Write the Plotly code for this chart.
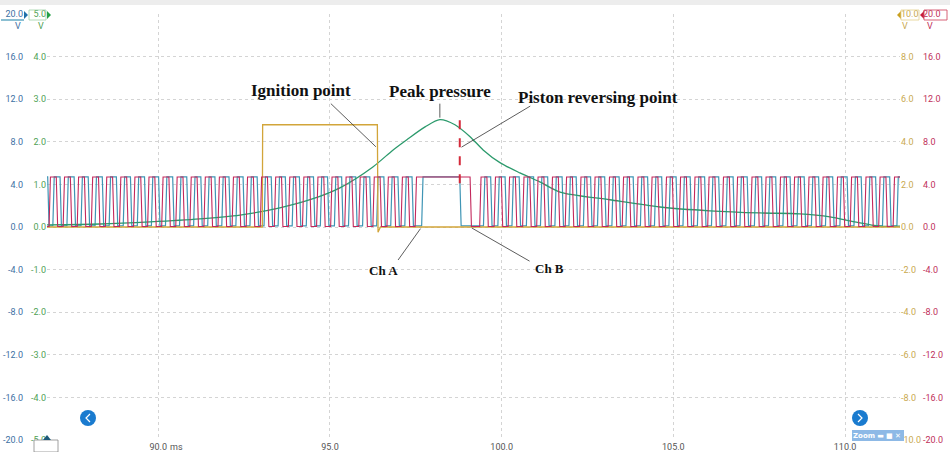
import plotly.graph_objects as go

# ---------------------------------------------------------------- data ----
# Time base (ms)
X_RANGE = [86.76, 111.60]
TIME_TICKS = [90, 95, 100, 105, 110]
TIME_TICK_TEXT = ["90.0", "95.0", "100.0", "105.0", "110.0"]

# Channel A (blue, ±20 V): crank sensor pulse edges, ms
CH_A_RISE = [86.55, 86.93, 87.34, 87.75, 88.16, 88.57, 88.98, 89.39, 89.80, 90.21,
             90.62, 91.03, 91.44, 91.85, 92.26, 92.67, 93.08, 93.49, 93.90, 94.31,
             94.72, 95.13, 95.54, 95.95, 96.36, 96.77, 97.18, 97.67,
             99.47, 99.89, 100.30, 100.72, 101.13, 101.55, 101.96, 102.38, 102.79,
             103.21, 103.62, 104.04, 104.45, 104.87, 105.28, 105.70, 106.11, 106.53,
             106.94, 107.36, 107.77, 108.19, 108.60, 109.02, 109.43, 109.85, 110.26,
             110.68, 111.09, 111.51]
CH_A_FALL = [86.78, 87.14, 87.55, 87.96, 88.37, 88.78, 89.19, 89.60, 90.01, 90.42,
             90.83, 91.24, 91.65, 92.06, 92.47, 92.88, 93.29, 93.70, 94.11, 94.52,
             94.93, 95.34, 95.75, 96.16, 96.57, 96.98, 97.39, 98.78,
             99.68, 100.10, 100.51, 100.93, 101.34, 101.76, 102.17, 102.59, 103.00,
             103.42, 103.83, 104.25, 104.66, 105.08, 105.49, 105.91, 106.32, 106.74,
             107.15, 107.57, 107.98, 108.40, 108.81, 109.23, 109.64, 110.06, 110.47,
             110.89, 111.30, 111.72]
CH_A_HIGH = 4.7
CH_A_LOW = 0.1

# Channel B (red, ±20 V): second crank sensor pulse edges, ms
CH_B_RISE = [86.82, 87.23, 87.64, 88.05, 88.46, 88.87, 89.28, 89.69, 90.10, 90.51,
             90.92, 91.33, 91.74, 92.15, 92.56, 92.97, 93.38, 93.79, 94.20, 94.61,
             95.02, 95.43, 95.84, 96.25, 96.66, 97.07, 97.48,
             99.36, 99.78, 100.19, 100.61, 101.02, 101.44, 101.85, 102.27, 102.68,
             103.10, 103.51, 103.93, 104.34, 104.76, 105.17, 105.59, 106.00, 106.42,
             106.83, 107.25, 107.66, 108.08, 108.49, 108.91, 109.32, 109.74, 110.15,
             110.57, 110.98, 111.40]
CH_B_FALL = [87.03, 87.44, 87.85, 88.26, 88.67, 89.08, 89.49, 89.90, 90.31, 90.72,
             91.13, 91.54, 91.95, 92.36, 92.77, 93.18, 93.59, 94.00, 94.41, 94.82,
             95.23, 95.64, 96.05, 96.46, 96.87, 97.28, 99.08,
             99.57, 99.99, 100.40, 100.82, 101.23, 101.65, 102.06, 102.48, 102.89,
             103.31, 103.72, 104.14, 104.55, 104.97, 105.38, 105.80, 106.21, 106.63,
             107.04, 107.46, 107.87, 108.29, 108.70, 109.12, 109.53, 109.95, 110.36,
             110.78, 111.19, 111.61]
CH_B_HIGH = 4.7
CH_B_LOW = 0.05

# Cylinder pressure sensor (green, ±5 V)
PRESSURE_T = [86.76, 88.30, 89.76, 91.21, 92.38, 93.54, 94.42, 95.29, 96.25, 96.84,
              97.24, 97.77, 98.20, 98.64, 99.08, 99.46, 99.95, 100.53, 101.11, 101.70,
              103.15, 104.61, 106.06, 107.52, 108.68, 109.56, 110.28, 111.01, 111.60]
PRESSURE_V = [0.05, 0.07, 0.12, 0.19, 0.28, 0.45, 0.64, 0.92, 1.41, 1.81,
              2.05, 2.35, 2.52, 2.40, 2.12, 1.81, 1.51, 1.27, 1.06, 0.82,
              0.64, 0.47, 0.38, 0.33, 0.31, 0.24, 0.12, 0.02, 0.02]

# Ignition signal (gold, ±10 V)
IGNITION_T = [86.76, 93.03, 93.04, 96.38, 96.40, 96.47, 111.60]
IGNITION_V = [0.0, 0.0, 4.8, 4.8, -0.25, 0.0, 0.0]

# Piston reversing point marker (red dashed), ±20 V scale
MARKER_T = 98.78
MARKER_V = [4.1, 10.7]

# Axis tick labels
A_TICKS = [20, 16, 12, 8, 4, 0, -4, -8, -12, -16, -20]
A_TEXT = ["20.0", "16.0", "12.0", "8.0", "4.0", "0.0", "-4.0", "-8.0", "-12.0", "-16.0", "-20.0"]
C_TICKS = [5, 4, 3, 2, 1, 0, -1, -2, -3, -4, -5]
C_TEXT = ["5.0", "4.0", "3.0", "2.0", "1.0", "0.0", "-1.0", "-2.0", "-3.0", "-4.0", "-5.0"]
D_TICKS = [10, 8, 6, 4, 2, 0, -2, -4, -6, -8, -10]
D_TEXT = ["10.0", "8.0", "6.0", "4.0", "2.0", "0.0", "-2.0", "-4.0", "-6.0", "-8.0", "-10.0"]

# -------------------------------------------------------------- styling ---
W, H = 950, 452
M_L, M_R, M_T, M_B = 47, 50, 14, 12
EDGE = 0.04  # ms, slew of each pulse edge

BLUE, BLUE_TXT = "#3f95b5", "#3d6fa3"
RED, RED_TXT = "#c3285c", "#c0305a"
GREEN, GREEN_TXT = "#2c9a6c", "#4f9f55"
GOLD, GOLD_TXT = "#d2a53a", "#c9a94f"
GRID = "#d4d4d4"
TICK_FONT = "Roboto"


def px_x(px):
    return (px - M_L) / (W - M_L - M_R)


def px_y(py):
    return 1 - (py - M_T) / (H - M_T - M_B)


def pulse_train(rises, falls, lo, hi):
    xs, ys = [X_RANGE[0] - 1.0], [lo]
    for r, f in zip(rises, falls):
        xs += [r, r + EDGE, f, f + EDGE]
        ys += [lo, hi, hi, lo]
    xs.append(X_RANGE[1] + 1.0)
    ys.append(lo)
    return xs, ys


fig = go.Figure()

ax_t, ax_v = pulse_train(CH_A_RISE, CH_A_FALL, CH_A_LOW, CH_A_HIGH)
bx_t, bx_v = pulse_train(CH_B_RISE, CH_B_FALL, CH_B_LOW, CH_B_HIGH)

fig.add_trace(go.Scatter(x=ax_t, y=ax_v, mode="lines", yaxis="y",
                         line=dict(color=BLUE, width=1.2), hoverinfo="skip"))
fig.add_trace(go.Scatter(x=bx_t, y=bx_v, mode="lines", yaxis="y4",
                         line=dict(color=RED, width=1.1), hoverinfo="skip"))
fig.add_trace(go.Scatter(x=IGNITION_T, y=IGNITION_V, mode="lines", yaxis="y3",
                         line=dict(color=GOLD, width=1.3), hoverinfo="skip"))
fig.add_trace(go.Scatter(x=PRESSURE_T, y=PRESSURE_V, mode="lines", yaxis="y2",
                         line=dict(color=GREEN, width=1.3, shape="spline", smoothing=0.8),
                         hoverinfo="skip"))

tick_font = lambda c: dict(family=TICK_FONT, size=9, color=c)
common_y = dict(zeroline=False, showline=False, ticks="", automargin=False, fixedrange=True)

fig.update_layout(
    width=W, height=H, autosize=False,
    margin=dict(l=M_L, r=M_R, t=M_T, b=M_B, pad=0),
    paper_bgcolor="white", plot_bgcolor="white",
    showlegend=False,
    xaxis=dict(range=X_RANGE, tickvals=TIME_TICKS, ticktext=TIME_TICK_TEXT,
               showgrid=True, gridcolor=GRID, griddash="dot", gridwidth=1,
               zeroline=False, showline=False, ticks="", automargin=False,
               tickfont=tick_font("#555555")),
    yaxis=dict(range=[-20, 20], tickvals=A_TICKS, ticktext=A_TEXT,
               showgrid=True, gridcolor=GRID, griddash="dot", gridwidth=1,
               tickfont=tick_font(BLUE_TXT), ticklabelstandoff=23, **common_y),
    yaxis2=dict(range=[-5, 5], tickvals=C_TICKS, ticktext=C_TEXT, overlaying="y",
                side="left", anchor="x", showgrid=False,
                tickfont=tick_font(GREEN_TXT), **common_y),
    yaxis3=dict(range=[-10, 10], tickvals=D_TICKS, ticktext=D_TEXT, overlaying="y",
                side="right", anchor="x", showgrid=False,
                tickfont=tick_font(GOLD_TXT), **common_y),
    yaxis4=dict(range=[-20, 20], tickvals=A_TICKS, ticktext=A_TEXT, overlaying="y",
                side="right", anchor="x", showgrid=False,
                tickfont=tick_font(RED_TXT), ticklabelstandoff=22, **common_y),
)

shapes = []
annotations = []

# Piston reversing point marker
shapes.append(dict(type="line", xref="x", yref="y4", x0=MARKER_T, x1=MARKER_T,
                   y0=MARKER_V[0], y1=MARKER_V[1],
                   line=dict(color="#d42a3a", width=2, dash="dash")))


def paper_rect(x0, y0, x1, y1, **kw):
    return dict(type="rect", xref="paper", yref="paper",
                x0=px_x(x0), x1=px_x(x1), y0=px_y(y1), y1=px_y(y0), **kw)


def paper_path(points, closed=True, **kw):
    d = "M " + " L ".join(f"{px_x(a):.5f},{px_y(b):.5f}" for a, b in points)
    if closed:
        d += " Z"
    return dict(type="path", xref="paper", yref="paper", path=d, **kw)


def paper_line(x0, y0, x1, y1, **kw):
    return dict(type="line", xref="paper", yref="paper",
                x0=px_x(x0), x1=px_x(x1), y0=px_y(y0), y1=px_y(y1), **kw)


def paper_text(x, y, text, font):
    return dict(xref="paper", yref="paper", x=px_x(x), y=px_y(y), text=text,
                showarrow=False, xanchor="center", yanchor="middle", font=font)


# Top grey strip
shapes.append(paper_rect(0, 0, W, 5, fillcolor="#ededed", line=dict(width=0), layer="below"))

# Channel scale markers at the top of each axis column
shapes.append(paper_line(1, 20, 24, 20, line=dict(color=BLUE, width=1.2)))
shapes.append(paper_path([(24, 11), (28, 15), (24, 19)], fillcolor="#1f6fa8", line=dict(width=0)))
shapes.append(paper_rect(29, 10, 46, 20, fillcolor="rgba(0,0,0,0)", line=dict(color="#9fd0a6", width=0.8)))
shapes.append(paper_path([(47, 11), (51, 15), (47, 19)], fillcolor="#22a045", line=dict(width=0)))
shapes.append(paper_path([(901, 11), (897, 15), (901, 19)], fillcolor="#c9a020", line=dict(width=0)))
shapes.append(paper_rect(901, 10, 919, 20, fillcolor="rgba(0,0,0,0)", line=dict(color="#e3cf8a", width=0.8)))
shapes.append(paper_path([(924, 11), (920, 15), (924, 19)], fillcolor="#c81e3c", line=dict(width=0)))
shapes.append(paper_rect(924, 10, 947, 20, fillcolor="rgba(0,0,0,0)", line=dict(color="#d2506a", width=0.9)))

# Scroll buttons
for cx, pts in ((88, [(90, 414), (86, 418), (90, 422)]), (860, [(858, 414), (862, 418), (858, 422)])):
    shapes.append(dict(type="circle", xref="paper", yref="paper",
                       x0=px_x(cx - 8), x1=px_x(cx + 8), y0=px_y(418 + 8), y1=px_y(418 - 8),
                       fillcolor="#1a7bcf", line=dict(width=0)))
    shapes.append(paper_path(pts, closed=False, line=dict(color="white", width=1.2)))

# Zoom control
shapes.append(paper_rect(852, 430, 904, 441, fillcolor="#8db9e6", line=dict(width=0)))
annotations.append(paper_text(877, 435.5, "<b>Zoom</b> ▬ ■ ✕",
                              dict(family="DejaVu Sans", size=7, color="white")))

# Bottom-left trigger box
shapes.append(paper_rect(34, 440, 58, 452, fillcolor="white", line=dict(color="#888888", width=0.8)))
shapes.append(paper_path([(43, 440), (47, 435), (51, 440)], fillcolor="#1d5a7a", line=dict(width=0)))

# Unit labels under the top scale values
for x, c in ((18, BLUE_TXT), (41, GREEN_TXT), (905, GOLD_TXT), (930, RED_TXT)):
    annotations.append(paper_text(x, 25.5, "V", dict(family=TICK_FONT, size=9, color=c)))

# Time unit after the first tick label
annotations.append(paper_text(176, 447, "ms", dict(family=TICK_FONT, size=9, color="#555555")))

# Callout labels
for text, x, y, size in (("Ignition point", 301, 90, 17), ("Peak pressure", 440, 92, 17),
                         ("Piston reversing point", 598, 97, 17), ("Ch A", 383, 270, 13),
                         ("Ch B", 549, 268, 13)):
    annotations.append(paper_text(x, y, f"<b>{text}</b>",
                                  dict(family="Liberation Serif", size=size, color="#111111")))

# Callout pointer lines, heads anchored on the data
peak_i = PRESSURE_V.index(max(PRESSURE_V))
pointers = [
    (IGNITION_T[3], 3.7, "y3", -48, -46),
    (PRESSURE_T[peak_i], PRESSURE_V[peak_i], "y2", 0, -18),
    (MARKER_T, 7.4, "y4", 72, -43),
    (CH_A_RISE[27], 0.0, "y", -25, 35),
    (CH_B_FALL[26], 0.0, "y4", 61, 35),
]
for x, y, yref, dx, dy in pointers:
    annotations.append(dict(xref="x", yref=yref, x=x, y=y, ax=dx, ay=dy, text=" ",
                            font=dict(size=1), showarrow=True, arrowhead=0,
                            arrowwidth=0.8, arrowcolor="#333333", standoff=2))

fig.update_layout(shapes=shapes, annotations=annotations)
fig.write_html("out.html")
